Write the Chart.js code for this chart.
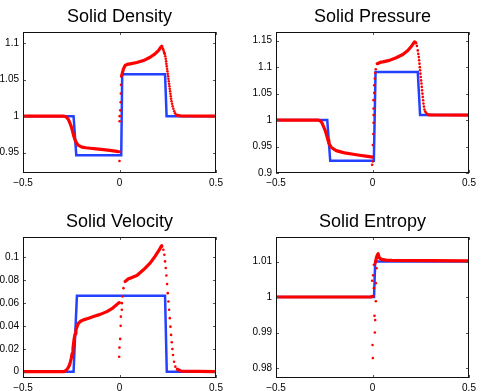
<!DOCTYPE html>
<html>
<head>
<meta charset="utf-8">
<script src="https://cdn.jsdelivr.net/npm/chart.js@4.4.0/dist/chart.umd.min.js"></script>
<style>
  html, body { margin: 0; padding: 0; background: #fff; }
  body { width: 481px; height: 391px; position: relative; overflow: hidden; }
  canvas { position: absolute; }
</style>
</head>
<body>
<canvas id="cDensity" width="240" height="195" style="left:0;top:0;width:240px;height:195px"></canvas>
<canvas id="cPressure" width="241" height="195" style="left:240px;top:0;width:241px;height:195px"></canvas>
<canvas id="cVelocity" width="240" height="196" style="left:0;top:195px;width:240px;height:196px"></canvas>
<canvas id="cEntropy" width="241" height="196" style="left:240px;top:195px;width:241px;height:196px"></canvas>
<script>
// shared x axis
const xTicks = [-0.5, 0, 0.5];

// Solid density
const densityTicks = [0.95, 1, 1.05, 1.1];
const densityExactX = [-0.5, -0.238, -0.224, 0.009, 0.014, 0.236, 0.244, 0.5];
const densityExactY = [1, 1, 0.9465, 0.9465, 1.0575, 1.0575, 1, 1];
const densityLineX = [-0.5, -0.29, -0.28, -0.272, -0.265, -0.259, -0.2525, -0.2465, -0.242, -0.238, -0.2335, -0.2294, -0.2235, -0.2175, -0.21, -0.195, -0.175, -0.152, -0.12, -0.083, -0.05, -0.0137, -0.002,
  null, 0.0121, 0.0205, 0.0292, 0.04, 0.055, 0.0897, 0.124, 0.1585, 0.184, 0.2015, 0.214, 0.2186,
  null, 0.2998, 0.32, 0.5];
const densityLineY = [1, 1, 0.9995, 0.9978, 0.9955, 0.9918, 0.9875, 0.9827, 0.978, 0.9736, 0.97, 0.9667, 0.9635, 0.9612, 0.9595, 0.9575, 0.9567, 0.956, 0.955, 0.954, 0.953, 0.9517, 0.9512,
  null, 1.0562, 1.0649, 1.0695, 1.071, 1.0718, 1.0736, 1.0763, 1.0809, 1.0855, 1.09, 1.0945, 1.0959,
  null, 1.001, 1.0002, 1];
const densityDotX = [0, 0.0005, 0.001, 0.004, 0.006, 0.007, 0.008, 0.009,
  0.222, 0.225, 0.2274, 0.23, 0.2325, 0.2345, 0.237, 0.2397, 0.2415, 0.2429, 0.2447, 0.2465, 0.2483, 0.2501, 0.2518, 0.2535, 0.2552, 0.2569, 0.2587, 0.2605, 0.2622, 0.264, 0.2656, 0.2672, 0.2697, 0.2723, 0.2755, 0.279, 0.2835, 0.2879, 0.2935];
const densityDotY = [0.9385, 0.993, 1.0, 1.008, 1.019, 1.031, 1.043, 1.0545,
  1.094, 1.092, 1.091, 1.0885, 1.0865, 1.0855, 1.0822, 1.0787, 1.0752, 1.0718, 1.0684, 1.065, 1.0616, 1.0582, 1.0547, 1.0513, 1.0479, 1.0445, 1.041, 1.0376, 1.0342, 1.0307, 1.0273, 1.0238, 1.0204, 1.017, 1.0135, 1.0101, 1.0068, 1.0041, 1.002];

// Solid pressure
const pressureTicks = [0.9, 0.95, 1, 1.05, 1.1, 1.15];
const pressureExactX = [-0.5, -0.2345, -0.219, 0.007, 0.0158, 0.2346, 0.2465, 0.5];
const pressureExactY = [1, 1, 0.923, 0.923, 1.091, 1.091, 1.0094, 1.0094];
const pressureLineX = [-0.5, -0.283, -0.274, -0.2656, -0.259, -0.2533, -0.248, -0.243, -0.2388, -0.2346, -0.23, -0.2258, -0.22, -0.214, -0.2, -0.188, -0.16, -0.1363, -0.1, -0.067, -0.035, -0.007, -0.001,
  null, 0.0245, 0.0449, 0.0535, 0.088, 0.1225, 0.157, 0.183, 0.205, 0.2175, 0.2225,
  null, 0.2915, 0.32, 0.5];
const pressureLineY = [1, 1, 0.9993, 0.9968, 0.9925, 0.9874, 0.9827, 0.978, 0.9728, 0.9675, 0.9615, 0.9562, 0.952, 0.9487, 0.945, 0.9423, 0.9395, 0.9374, 0.9355, 0.9336, 0.932, 0.9305, 0.93,
  null, 1.1066, 1.1096, 1.11, 1.1128, 1.1178, 1.124, 1.1316, 1.141, 1.1478, 1.1465,
  null, 1.01, 1.0096, 1.0094];
const pressureDotX = [-0.0018, 0.0018, 0.0018, 0.004, 0.0055, 0.0055, 0.0055, 0.0055, 0.009, 0.009, 0.012, 0.014, 0.017,
  0.2258, 0.23, 0.2346, 0.2372, 0.2398, 0.2415, 0.2433, 0.245, 0.2465, 0.2483, 0.25, 0.2518, 0.2537, 0.2553, 0.2568, 0.2587, 0.2605, 0.2622, 0.264, 0.2665, 0.2692, 0.273, 0.2775, 0.284];
const pressureDotY = [0.9154, 0.9217, 0.953, 0.9737, 0.995, 1.0094, 1.022, 1.0376, 1.0513, 1.0658, 1.0784, 1.0889, 1.0959,
  1.1453, 1.14, 1.1316, 1.125, 1.119, 1.113, 1.1066, 1.1, 1.094, 1.0877, 1.0814, 1.075, 1.069, 1.0627, 1.0564, 1.05, 1.0438, 1.0375, 1.0314, 1.0255, 1.0201, 1.0163, 1.0137, 1.0113];

// Solid velocity
const velocityTicks = [0, 0.02, 0.04, 0.06, 0.08, 0.1];
const velocityExactX = [-0.5, -0.238, -0.2206, 0.236, 0.245, 0.5];
const velocityExactY = [0, 0, 0.0662, 0.0662, 0, 0];
const velocityLineX = [-0.5, -0.29, -0.28, -0.272, -0.265, -0.259, -0.2545, -0.25, -0.2455, -0.241, -0.2378, -0.2346, -0.23, -0.2258, -0.219, -0.2124, -0.2, -0.1865, -0.16, -0.1348, -0.1, -0.0655, -0.035, -0.0054, -0.001,
  null, 0.0292, 0.0464, 0.055, 0.0897, 0.124, 0.1585, 0.184, 0.2067, 0.2155, 0.219,
  null, 0.2998, 0.32, 0.5];
const velocityLineY = [0, 0, 0.0008, 0.0021, 0.0038, 0.0059, 0.0085, 0.0117, 0.0158, 0.0204, 0.0248, 0.0292, 0.033, 0.0364, 0.0397, 0.0423, 0.0442, 0.0452, 0.0467, 0.0481, 0.05, 0.0524, 0.0555, 0.0598, 0.0603,
  null, 0.0787, 0.081, 0.0816, 0.0839, 0.0889, 0.0947, 0.1005, 0.1064, 0.1093, 0.1099,
  null, 0.0021, 0.0005, 0];
const velocityDotX = [-0.0018, -0.0003, 0.0034, 0.006, 0.007, 0.0121, 0.0121, 0.0156, 0.0207,
  0.2274, 0.2326, 0.2361, 0.2397, 0.2429, 0.2465, 0.25, 0.2534, 0.2569, 0.2605, 0.264, 0.2672, 0.2708, 0.274, 0.2775, 0.2827, 0.2894];
const velocityDotY = [0.0131, 0.021, 0.0286, 0.04, 0.048, 0.054, 0.0598, 0.0656, 0.0729,
  0.1064, 0.102, 0.0962, 0.0904, 0.0839, 0.0764, 0.0685, 0.0612, 0.054, 0.0467, 0.0393, 0.0321, 0.0257, 0.0198, 0.0146, 0.0087, 0.0044];

// Solid entropy
const entropyTicks = [0.98, 0.99, 1, 1.01];
const entropyExactX = [-0.5, 0.008, 0.014, 0.5];
const entropyExactY = [1, 1, 1.01, 1.01];
const entropyLineX = [-0.5, -0.01, 0.003, null, 0.0155, 0.02, 0.024, 0.0292, 0.0344, 0.0468, 0.07, 0.1, 0.5];
const entropyLineY = [1, 1, 1.0002, null, 1.0098, 1.011, 1.0117, 1.0122, 1.0111, 1.0106, 1.0104, 1.0103, 1.0102];
const entropyDotX = [0.007, 0.021, 0.0034, -0.0018, 0.0173, 0.007, 0.0173, 0.0104, 0.0137, 0.0121, 0.0002, 0.0018];
const entropyDotY = [1.0091, 1.0081, 1.0061, 1.0046, 1.0039, 1.0025, 0.9988, 0.9947, 0.9935, 0.99, 0.9865, 0.9828];

const RED = '#ff0000';
const BLUE = 'rgb(35,65,255)';
const FONT = 'Liberation Sans, Arial, Helvetica, sans-serif';

function pts(xs, ys) {
  return xs.map((x, i) => ({ x: x, y: ys[i] }));
}
function fmt(v) {
  return String(v).replace('-', '\u2212');
}

// box and inward tick marks, MATLAB style
const frame = {
  id: 'frame',
  afterDatasetsDraw(chart) {
    const { ctx, chartArea: a, scales } = chart;
    ctx.save();
    ctx.lineWidth = 1;
    ctx.strokeStyle = '#555';
    ctx.beginPath();
    scales.x.ticks.forEach(t => {
      const px = Math.round(scales.x.getPixelForValue(t.value)) + 0.5;
      ctx.moveTo(px, a.bottom); ctx.lineTo(px, a.bottom - 3);
      ctx.moveTo(px, a.top); ctx.lineTo(px, a.top + 3);
    });
    scales.y.ticks.forEach(t => {
      const py = Math.round(scales.y.getPixelForValue(t.value)) + 0.5;
      ctx.moveTo(a.left, py); ctx.lineTo(a.left + 3, py);
      ctx.moveTo(a.right, py); ctx.lineTo(a.right - 3, py);
    });
    ctx.stroke();
    ctx.strokeStyle = '#111';
    ctx.strokeRect(a.left + 0.5, a.top + 0.5, a.right - a.left - 1, a.bottom - a.top - 1);
    ctx.restore();
  }
};

function panel(id, title, yMin, yMax, yTicks, exact, line, dots, box) {
  return new Chart(document.getElementById(id), {
    type: 'scatter',
    data: {
      datasets: [
        { data: line, showLine: true, borderColor: RED, borderWidth: 3.2, pointRadius: 0,
          spanGaps: false, borderCapStyle: 'round', borderJoinStyle: 'round' },
        { data: dots, showLine: false, pointRadius: 1.3, pointBackgroundColor: RED, pointBorderWidth: 0 },
        { data: exact, showLine: true, borderColor: BLUE, borderWidth: 2.5, pointRadius: 0 }
      ]
    },
    options: {
      responsive: false,
      animation: false,
      devicePixelRatio: 1,
      layout: { padding: { left: 0, right: box.right, top: box.top - 32, bottom: 0 } },
      plugins: {
        legend: { display: false },
        tooltip: { enabled: false },
        title: {
          display: true, text: title, fullSize: false, color: '#000',
          font: { family: FONT, size: 18, weight: 'normal' },
          padding: { top: 6, bottom: 4.4 }
        }
      },
      scales: {
        x: {
          type: 'linear', min: -0.5, max: 0.5,
          grid: { display: false, drawTicks: false }, border: { display: false },
          afterBuildTicks: s => { s.ticks = xTicks.map(v => ({ value: v })); },
          afterFit: s => { s.height = box.bottom; },
          ticks: { padding: 4, color: '#000', font: { family: FONT, size: 10 },
                   maxRotation: 0, autoSkip: false, callback: fmt }
        },
        y: {
          type: 'linear', min: yMin, max: yMax,
          grid: { display: false, drawTicks: false }, border: { display: false },
          afterBuildTicks: s => { s.ticks = yTicks.map(v => ({ value: v })); },
          afterFit: s => { s.width = box.left; },
          ticks: { padding: 4, color: '#000', font: { family: FONT, size: 10 },
                   autoSkip: false, callback: fmt }
        }
      }
    },
    plugins: [frame]
  });
}

panel('cDensity', 'Solid Density', 0.922, 1.1155, densityTicks,
  pts(densityExactX, densityExactY), pts(densityLineX, densityLineY), pts(densityDotX, densityDotY),
  { left: 23, right: 24, top: 32, bottom: 22 });
panel('cPressure', 'Solid Pressure', 0.9, 1.1664, pressureTicks,
  pts(pressureExactX, pressureExactY), pts(pressureLineX, pressureLineY), pts(pressureDotX, pressureDotY),
  { left: 36, right: 12, top: 32, bottom: 22 });
panel('cVelocity', 'Solid Velocity', -0.0055, 0.1175, velocityTicks,
  pts(velocityExactX, velocityExactY), pts(velocityLineX, velocityLineY), pts(velocityDotX, velocityDotY),
  { left: 23, right: 24, top: 42, bottom: 13 });
panel('cEntropy', 'Solid Entropy', 0.9772, 1.0169, entropyTicks,
  pts(entropyExactX, entropyExactY), pts(entropyLineX, entropyLineY), pts(entropyDotX, entropyDotY),
  { left: 36, right: 12, top: 42, bottom: 13 });
</script>
</body>
</html>
